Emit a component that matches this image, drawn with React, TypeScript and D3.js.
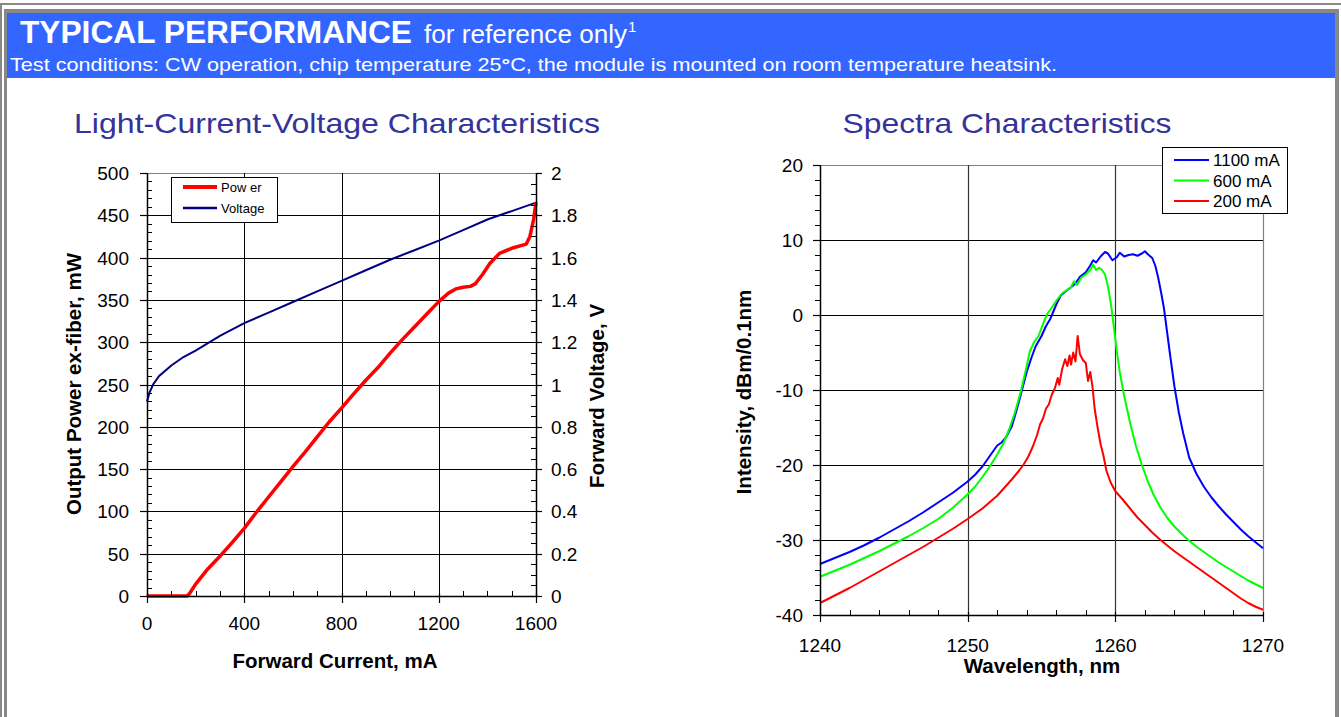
import React from 'react';
import * as d3 from 'd3';

const FONT = '"Liberation Sans", Arial, Helvetica, sans-serif';

// ---- Light-Current-Voltage data ----
const currentTicks = [0, 400, 800, 1200, 1600];
const powerTicks = [0, 50, 100, 150, 200, 250, 300, 350, 400, 450, 500];
const voltageTicks = [0, 0.2, 0.4, 0.6, 0.8, 1, 1.2, 1.4, 1.6, 1.8, 2];
const voltageTickLabels = ['0', '0.2', '0.4', '0.6', '0.8', '1', '1.2', '1.4', '1.6', '1.8', '2'];

// [current mA, power mW]
const powerData: [number, number][] = [
  [0, 0], [165, 0], [175, 3], [200, 14], [250, 32], [300, 47], [350, 63], [400, 80],
  [450, 99], [500, 117], [550, 135], [600, 153], [650, 170], [700, 188], [750, 206],
  [800, 222], [850, 239], [900, 255], [950, 270], [1000, 287], [1050, 303], [1100, 318],
  [1150, 333], [1200, 348], [1240, 358], [1270, 363], [1300, 365], [1330, 366], [1350, 369],
  [1380, 380], [1410, 393], [1450, 405], [1500, 411], [1560, 416], [1575, 425],
  [1590, 445], [1600, 465],
];

// [current mA, voltage V]
const voltageData: [number, number][] = [
  [0, 0.92], [10, 0.96], [25, 1.0], [50, 1.04], [100, 1.09], [150, 1.13], [200, 1.16],
  [300, 1.23], [400, 1.29], [500, 1.34], [600, 1.39], [700, 1.44], [800, 1.49],
  [900, 1.54], [1000, 1.59], [1100, 1.635], [1200, 1.68], [1300, 1.73], [1400, 1.78],
  [1500, 1.82], [1600, 1.86],
];

// ---- Spectra data ----
const wlTicks = [1240, 1250, 1260, 1270];
const intensityTicks = [-40, -30, -20, -10, 0, 10, 20];

const blue1100: [number, number][] = [
  [1240, -33.2], [1241, -32.4], [1242, -31.6], [1243, -30.7], [1244, -29.7], [1245, -28.6],
  [1246, -27.5], [1247, -26.3], [1248, -25.0], [1249, -23.7], [1250, -22.2], [1250.5, -21.3],
  [1251, -20.2], [1251.5, -18.8], [1252, -17.4], [1252.3, -17.0], [1252.6, -16.3], [1253, -14.8],
  [1253.3, -12.8], [1253.6, -10.6], [1254, -7.6], [1254.3, -5.8], [1254.6, -4.2], [1255, -2.8],
  [1255.3, -1.5], [1255.6, -0.5], [1256, 1.4], [1256.3, 2.6], [1256.6, 3.1], [1257, 3.7],
  [1257.3, 4.2], [1257.6, 5.1], [1258, 5.7], [1258.3, 6.6], [1258.5, 7.3], [1258.7, 7.0],
  [1259, 7.8], [1259.3, 8.4], [1259.5, 8.2], [1259.8, 7.3], [1260.1, 7.7], [1260.3, 8.3],
  [1260.6, 7.8], [1260.9, 8.0], [1261.2, 8.1], [1261.5, 7.9], [1261.8, 8.2], [1262.0, 8.5],
  [1262.2, 8.1], [1262.5, 7.6], [1262.7, 6.6], [1262.9, 5.0], [1263.1, 3.0], [1263.3, 0.8],
  [1263.5, -2.2], [1263.7, -5.2], [1264, -9.5], [1264.3, -13.0], [1264.6, -15.8], [1265, -19.0],
  [1265.5, -21.2], [1266, -22.9], [1266.5, -24.3], [1267, -25.5], [1267.5, -26.6], [1268, -27.6],
  [1268.5, -28.6], [1269, -29.5], [1269.5, -30.3], [1270, -31.1],
];

const green600: [number, number][] = [
  [1240, -34.9], [1241, -34.1], [1242, -33.3], [1243, -32.4], [1244, -31.5], [1245, -30.5],
  [1246, -29.5], [1247, -28.4], [1248, -27.2], [1249, -25.7], [1250, -23.9], [1250.5, -22.9],
  [1251, -21.6], [1251.5, -20.2], [1252, -18.6], [1252.4, -17.2], [1252.8, -15.3], [1253.2, -13.0],
  [1253.6, -10.2], [1254, -6.8], [1254.2, -4.9], [1254.5, -3.6], [1254.8, -2.8], [1255.1, -1.2],
  [1255.4, 0.2], [1255.7, 1.0], [1256, 1.9], [1256.4, 2.9], [1256.7, 3.3], [1257, 3.7],
  [1257.2, 4.5], [1257.4, 4.0], [1257.7, 5.0], [1258, 5.4], [1258.3, 6.0], [1258.5, 6.7],
  [1258.7, 6.0], [1258.9, 6.3], [1259.1, 6.0], [1259.3, 5.4], [1259.5, 3.8], [1259.7, 1.5],
  [1259.9, -1.6], [1260.1, -4.8], [1260.3, -7.6], [1260.6, -10.8], [1261, -14.4], [1261.4, -17.5],
  [1261.8, -20.0], [1262.2, -22.2], [1262.6, -24.0], [1263, -25.5], [1263.5, -27.0], [1264, -28.2],
  [1264.5, -29.2], [1265, -30.1], [1265.5, -30.9], [1266, -31.6], [1266.5, -32.3], [1267, -33.0],
  [1267.5, -33.6], [1268, -34.2], [1268.5, -34.8], [1269, -35.4], [1269.5, -35.9], [1270, -36.4],
];

const red200: [number, number][] = [
  [1240, -38.4], [1241, -37.4], [1242, -36.4], [1243, -35.3], [1244, -34.2], [1245, -33.1],
  [1246, -32.0], [1247, -30.9], [1248, -29.7], [1249, -28.5], [1250, -27.2], [1251, -25.8],
  [1252, -24.1], [1252.5, -23.0], [1253, -21.9], [1253.5, -20.7], [1253.8, -19.9], [1254.1, -18.9],
  [1254.4, -17.6], [1254.7, -16.0], [1254.9, -14.6], [1255.1, -13.8], [1255.3, -12.5], [1255.5, -11.9],
  [1255.7, -10.6], [1255.9, -9.8], [1256.1, -8.4], [1256.2, -9.3], [1256.4, -7.2], [1256.6, -5.9],
  [1256.75, -6.8], [1256.9, -5.4], [1257.0, -6.6], [1257.15, -5.0], [1257.3, -6.2], [1257.45, -2.8],
  [1257.6, -5.2], [1257.8, -6.0], [1258.0, -6.4], [1258.15, -8.8], [1258.3, -7.6], [1258.45, -9.5],
  [1258.6, -12.5], [1258.8, -15.0], [1259.0, -17.2], [1259.2, -18.8], [1259.4, -20.8], [1259.7, -22.4],
  [1260, -23.5], [1260.5, -24.6], [1261, -25.8], [1261.5, -27.0], [1262, -28.0], [1262.5, -29.0],
  [1263, -29.9], [1263.5, -30.7], [1264, -31.5], [1264.5, -32.2], [1265, -32.9], [1265.5, -33.6],
  [1266, -34.3], [1266.5, -35.0], [1267, -35.7], [1267.5, -36.4], [1268, -37.1], [1268.5, -37.8],
  [1269, -38.4], [1269.5, -38.9], [1270, -39.3],
];

const spectra = [
  { label: '1100 mA', color: '#0000FF', data: blue1100 },
  { label: '600 mA', color: '#00FF00', data: green600 },
  { label: '200 mA', color: '#FF0000', data: red200 },
];

const px = (v: number) => Math.round(v) + 0.5;

export default function App() {
  // left chart scales
  const lx = d3.scaleLinear().domain([0, 1600]).range([147, 536]);
  const ly = d3.scaleLinear().domain([0, 500]).range([596, 173]);
  const lv = d3.scaleLinear().domain([0, 2]).range([596, 173]);

  // right chart scales
  const rx = d3.scaleLinear().domain([1240, 1270]).range([820, 1263]);
  const ry = d3.scaleLinear().domain([-40, 20]).range([615, 165]);

  const powerLine = d3.line<[number, number]>().x(d => lx(d[0])).y(d => ly(d[1]))(powerData)!;
  const voltLine = d3.line<[number, number]>().x(d => lx(d[0])).y(d => lv(d[1]))(voltageData)!;
  const specLine = d3.line<[number, number]>().x(d => rx(d[0])).y(d => ry(d[1]));

  const powerMinor = d3.range(0, 501, 10).filter(v => v % 50 !== 0);
  const voltMinor = d3.range(0, 2.0001, 0.05).filter((v, i) => i % 4 !== 0);
  const currentMinor = d3.range(0, 1601, 100).filter(v => v % 400 !== 0);
  const wlMinor = d3.range(1240, 1271, 2).filter(v => v % 10 !== 0);
  const intMinor = d3.range(-40, 21, 2).filter(v => v % 10 !== 0);

  const axisCol = '#000';
  const titleSize = 20.5;

  return (
    <svg width={1341} height={717} style={{ position: 'absolute', left: 0, top: 0, background: '#fff' }}
      fontFamily={FONT}>
      <rect x={0} y={0} width={1341} height={717} fill="#fff" />
      {/* frames */}
      <rect x={0} y={3} width={2} height={714} fill="#888" />
      <rect x={0} y={3} width={1341} height={2} fill="#888" />
      <rect x={4} y={9} width={3} height={708} fill="#888" />
      <rect x={4} y={9} width={1335} height={4} fill="#888" />
      <rect x={1335} y={9} width={4} height={708} fill="#888" />
      <rect x={7} y={13} width={1328} height={65} fill="#3366FF" />

      {/* header */}
      <text x={20} y={43} fill="#fff" fontSize={31} fontWeight="bold" textLength={392} lengthAdjust="spacingAndGlyphs">
        TYPICAL PERFORMANCE
      </text>
      <text x={424} y={43} fill="#fff" fontSize={26} textLength={203} lengthAdjust="spacingAndGlyphs">
        for reference only
      </text>
      <text x={628} y={32} fill="#fff" fontSize={15}>1</text>
      <text x={10} y={71} fill="#fff" fontSize={19} textLength={1047} lengthAdjust="spacingAndGlyphs">
        Test conditions: CW operation, chip temperature 25<tspan fontWeight="bold">°</tspan>C, the module is mounted on room temperature heatsink.
      </text>

      {/* titles */}
      <text x={337} y={133} fill="#333399" fontSize={28} textAnchor="middle" textLength={526} lengthAdjust="spacingAndGlyphs">
        Light-Current-Voltage Characteristics
      </text>
      <text x={1007} y={133} fill="#333399" fontSize={28} textAnchor="middle" textLength={329} lengthAdjust="spacingAndGlyphs">
        Spectra Characteristics
      </text>

      {/* ===== Left chart ===== */}
      <g>
        {powerTicks.filter(t => t > 0 && t < 500).map(t => (
          <line key={'pg' + t} x1={lx(0)} x2={lx(1600)} y1={px(ly(t))} y2={px(ly(t))} stroke="#000" strokeWidth={1} />
        ))}
        <line x1={lx(0)} x2={lx(1600)} y1={px(ly(500))} y2={px(ly(500))} stroke="#808080" strokeWidth={1} />
        {currentTicks.filter(t => t > 0 && t < 1600).map(t => (
          <line key={'cg' + t} x1={px(lx(t))} x2={px(lx(t))} y1={ly(0)} y2={ly(500)} stroke="#000" strokeWidth={1} />
        ))}

        <path d={voltLine} fill="none" stroke="#000080" strokeWidth={2} />
        <path d={powerLine} fill="none" stroke="#FF0000" strokeWidth={3.5} strokeLinejoin="round" />

        {/* left axis */}
        <line x1={px(lx(0))} x2={px(lx(0))} y1={ly(0)} y2={ly(500)} stroke={axisCol} strokeWidth={1.5} />
        {powerTicks.map(t => (
          <g key={'pt' + t}>
            <line x1={lx(0) - 7} x2={lx(0)} y1={px(ly(t))} y2={px(ly(t))} stroke={axisCol} strokeWidth={1.2} />
            <text x={129} y={ly(t) + 7} fontSize={19} textAnchor="end" fill="#000">{t}</text>
          </g>
        ))}
        {powerMinor.map(t => (
          <line key={'pm' + t} x1={lx(0)} x2={lx(0) + 5} y1={px(ly(t))} y2={px(ly(t))} stroke={axisCol} strokeWidth={1} />
        ))}

        {/* right axis */}
        <line x1={px(lx(1600))} x2={px(lx(1600))} y1={ly(0)} y2={ly(500)} stroke={axisCol} strokeWidth={1.5} />
        {voltageTicks.map((t, i) => (
          <g key={'vt' + t}>
            <line x1={lx(1600)} x2={lx(1600) + 6} y1={px(lv(t))} y2={px(lv(t))} stroke={axisCol} strokeWidth={1.2} />
            <text x={551} y={lv(t) + 7} fontSize={19} textAnchor="start" fill="#000">{voltageTickLabels[i]}</text>
          </g>
        ))}
        {voltMinor.map(t => (
          <line key={'vm' + t} x1={lx(1600) - 5} x2={lx(1600)} y1={px(lv(t))} y2={px(lv(t))} stroke={axisCol} strokeWidth={1} />
        ))}

        {/* bottom axis */}
        <line x1={lx(0)} x2={lx(1600)} y1={px(ly(0))} y2={px(ly(0))} stroke={axisCol} strokeWidth={1.5} />
        {currentTicks.map(t => (
          <g key={'ct' + t}>
            <line x1={px(lx(t))} x2={px(lx(t))} y1={ly(0) - 3} y2={ly(0) + 7} stroke={axisCol} strokeWidth={1.2} />
            <text x={lx(t)} y={630} fontSize={19} textAnchor="middle" fill="#000">{t}</text>
          </g>
        ))}
        {currentMinor.map(t => (
          <line key={'cm' + t} x1={px(lx(t))} x2={px(lx(t))} y1={ly(0) - 5} y2={ly(0)} stroke={axisCol} strokeWidth={1} />
        ))}

        {/* axis titles */}
        <text x={335} y={668} fontSize={titleSize} fontWeight="bold" textAnchor="middle">Forward Current, mA</text>
        <text transform={`translate(81, 384) rotate(-90)`} fontSize={titleSize} fontWeight="bold" textAnchor="middle">
          Output Power ex-fiber, mW
        </text>
        <text transform={`translate(604, 396) rotate(-90)`} fontSize={titleSize} fontWeight="bold" textAnchor="middle">
          Forward Voltage, V
        </text>

        {/* legend */}
        <rect x={171.5} y={177.5} width={106} height={45} fill="#fff" stroke="#000" strokeWidth={1} />
        <line x1={183} x2={217} y1={187} y2={187} stroke="#FF0000" strokeWidth={4} />
        <text x={221} y={192} fontSize={13}>Pow er</text>
        <line x1={183} x2={217} y1={208} y2={208} stroke="#000080" strokeWidth={2.5} />
        <text x={221} y={213} fontSize={13}>Voltage</text>
      </g>

      {/* ===== Right chart ===== */}
      <g>
        {intensityTicks.filter(t => t > -40 && t < 20).map(t => (
          <line key={'ig' + t} x1={rx(1240)} x2={rx(1270)} y1={px(ry(t))} y2={px(ry(t))} stroke="#000" strokeWidth={1} />
        ))}
        <line x1={rx(1240)} x2={rx(1270)} y1={px(ry(20))} y2={px(ry(20))} stroke="#808080" strokeWidth={1.2} />
        {wlTicks.filter(t => t > 1240 && t < 1270).map(t => (
          <line key={'wg' + t} x1={px(rx(t))} x2={px(rx(t))} y1={ry(-40)} y2={ry(20)} stroke="#333" strokeWidth={1.2} />
        ))}
        <line x1={px(rx(1270))} x2={px(rx(1270))} y1={ry(-40)} y2={ry(20)} stroke="#808080" strokeWidth={1.2} />

        {spectra.map(s => (
          <path key={s.label} d={specLine(s.data)!} fill="none" stroke={s.color} strokeWidth={2} strokeLinejoin="round" />
        ))}

        {/* left axis */}
        <line x1={px(rx(1240))} x2={px(rx(1240))} y1={ry(-40)} y2={ry(20)} stroke={axisCol} strokeWidth={1.5} />
        {intensityTicks.map(t => (
          <g key={'it' + t}>
            <line x1={rx(1240) - 7} x2={rx(1240)} y1={px(ry(t))} y2={px(ry(t))} stroke={axisCol} strokeWidth={1.2} />
            <text x={803} y={ry(t) + 7} fontSize={19} textAnchor="end" fill="#000">{t}</text>
          </g>
        ))}
        {intMinor.map(t => (
          <line key={'im' + t} x1={rx(1240) - 5} x2={rx(1240)} y1={px(ry(t))} y2={px(ry(t))} stroke={axisCol} strokeWidth={1} />
        ))}

        {/* bottom axis */}
        <line x1={rx(1240)} x2={rx(1270)} y1={px(ry(-40))} y2={px(ry(-40))} stroke={axisCol} strokeWidth={1.5} />
        {wlTicks.map(t => (
          <g key={'wt' + t}>
            <line x1={px(rx(t))} x2={px(rx(t))} y1={ry(-40) - 3} y2={ry(-40) + 7} stroke={axisCol} strokeWidth={1.2} />
            <text x={rx(t)} y={652} fontSize={19} textAnchor="middle" fill="#000">{t}</text>
          </g>
        ))}
        {wlMinor.map(t => (
          <line key={'wm' + t} x1={px(rx(t))} x2={px(rx(t))} y1={ry(-40) - 5} y2={ry(-40)} stroke={axisCol} strokeWidth={1} />
        ))}

        <text x={1042} y={673} fontSize={titleSize} fontWeight="bold" textAnchor="middle">Wavelength, nm</text>
        <text transform={`translate(751, 392) rotate(-90)`} fontSize={titleSize} fontWeight="bold" textAnchor="middle">
          Intensity, dBm/0.1nm
        </text>

        {/* legend */}
        <rect x={1162.5} y={147.5} width={125} height={66} fill="#fff" stroke="#000" strokeWidth={1} />
        {spectra.map((s, i) => (
          <g key={'lg' + s.label}>
            <line x1={1174} x2={1209} y1={160 + i * 20.5} y2={160 + i * 20.5} stroke={s.color} strokeWidth={2} />
            <text x={1213} y={166 + i * 20.5} fontSize={17}>{s.label}</text>
          </g>
        ))}
      </g>
    </svg>
  );
}
